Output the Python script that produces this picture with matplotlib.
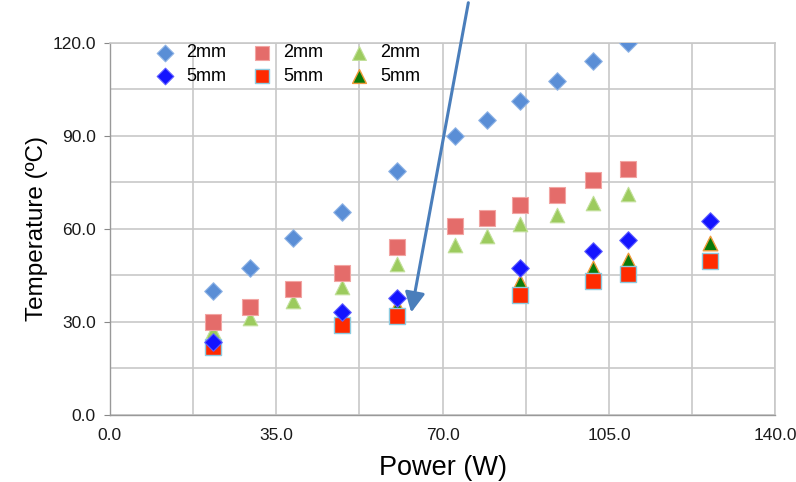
import matplotlib.pyplot as plt
from matplotlib.patches import FancyArrowPatch
import numpy as np

plt.rcParams['font.family'] = ['Liberation Sans', 'DejaVu Sans']

# measurements: heater power (W) vs temperature (C) for three sensor types
power_2mm = [21.7, 29.5, 38.5, 48.8, 60.4, 72.6, 79.4, 86.3, 94.1, 101.7, 109.0]
temp_diamond_2mm = [40.0, 47.4, 57.1, 65.5, 78.7, 90.0, 95.2, 101.3, 107.7, 114.2, 120.0]
temp_square_2mm = [30.0, 34.8, 40.6, 45.8, 54.2, 61.0, 63.5, 67.7, 71.0, 75.8, 79.4]
temp_triangle_2mm = [27.0, 31.3, 36.8, 41.3, 48.7, 54.8, 57.7, 61.6, 64.5, 68.4, 71.3]

power_5mm = [21.7, 48.8, 60.4, 86.3, 101.7, 109.0, 126.3]
temp_diamond_5mm = [23.5, 33.2, 37.7, 47.4, 52.9, 56.5, 62.5]
temp_square_5mm = [22.0, 29.0, 32.0, 38.8, 43.2, 45.6, 49.7]
temp_triangle_5mm = [22.8, 30.8, 35.0, 43.0, 47.4, 50.0, 55.5]

x_ticks = np.arange(0, 141, 35)
y_ticks = np.arange(0, 121, 30)

fig = plt.figure(figsize=(7.96, 4.82), dpi=100)
ax = fig.add_axes([0.138, 0.139, 0.836, 0.772])

h1 = ax.scatter(power_2mm, temp_diamond_2mm, marker='D', s=80, c='#5a8ed6',
                edgecolors='#8fb4e6', linewidths=0.8, zorder=5, label='2mm')
h2 = ax.scatter(power_5mm, temp_diamond_5mm, marker='D', s=80, c='#1414ff',
                edgecolors='#6060ff', linewidths=0.8, zorder=5, label='5mm')
h3 = ax.scatter(power_2mm, temp_square_2mm, marker='s', s=120, c='#e46c6a',
                edgecolors='#f2a5a3', linewidths=0.8, zorder=4, label='2mm')
h4 = ax.scatter(power_5mm, temp_square_5mm, marker='s', s=120, c='#ff2a00',
                edgecolors='#8ccbe0', linewidths=1.0, zorder=4, label='5mm')
h5 = ax.scatter(power_2mm, temp_triangle_2mm, marker='^', s=110, c='#9ccb5e',
                edgecolors='#c2e09a', linewidths=0.8, zorder=3, label='2mm')
h6 = ax.scatter(power_5mm, temp_triangle_5mm, marker='^', s=110, c='#0a7a0a',
                edgecolors='#f09a3a', linewidths=1.0, zorder=3, label='5mm')

ax.set_xlim(0, 140)
ax.set_ylim(0, 120)
ax.set_xticks(x_ticks)
ax.set_xticks(np.arange(0, 141, 17.5), minor=True)
ax.set_yticks(y_ticks)
ax.set_yticks(np.arange(0, 121, 15), minor=True)
ax.set_xticklabels([f'{v:.1f}' for v in x_ticks])
ax.set_yticklabels([f'{v:.1f}' for v in y_ticks])
ax.tick_params(axis='both', which='major', labelsize=12.5, length=4, width=0.8)
ax.tick_params(axis='x', which='major', length=0, pad=9)
ax.tick_params(axis='y', which='major', pad=6, colors='#888888', labelcolor='#1a1a1a')
ax.tick_params(axis='x', labelcolor='#1a1a1a')
ax.tick_params(axis='both', which='minor', length=0)

ax.grid(True, which='both', color='#c8c8c8', linewidth=1.2)
ax.set_axisbelow(True)
for side in ['top', 'right']:
    ax.spines[side].set_color('#c8c8c8')
    ax.spines[side].set_linewidth(1.2)
for side in ['left', 'bottom']:
    ax.spines[side].set_color('#999999')
    ax.spines[side].set_linewidth(1.0)

ax.set_xlabel('Power (W)', fontsize=19.5, labelpad=9)
ax.set_ylabel('Temperature (ºC)', fontsize=17.5, labelpad=3)

ax.legend(handles=[h1, h2, h3, h4, h5, h6], ncol=3, loc='upper left',
          bbox_to_anchor=(0.04, 1.025), frameon=False, fontsize=13,
          markerscale=0.95, handletextpad=0.15, columnspacing=1.0,
          labelspacing=0.35, borderaxespad=0.2)

# callout arrow coming down from above the plot
fig.patches.append(FancyArrowPatch(
    (0.589, 1.0), (0.516, 0.346), transform=fig.transFigure,
    arrowstyle='-|>,head_length=12,head_width=6', color='#4a7ebb',
    linewidth=2.2, zorder=10))

plt.savefig('out.png', dpi=100)
